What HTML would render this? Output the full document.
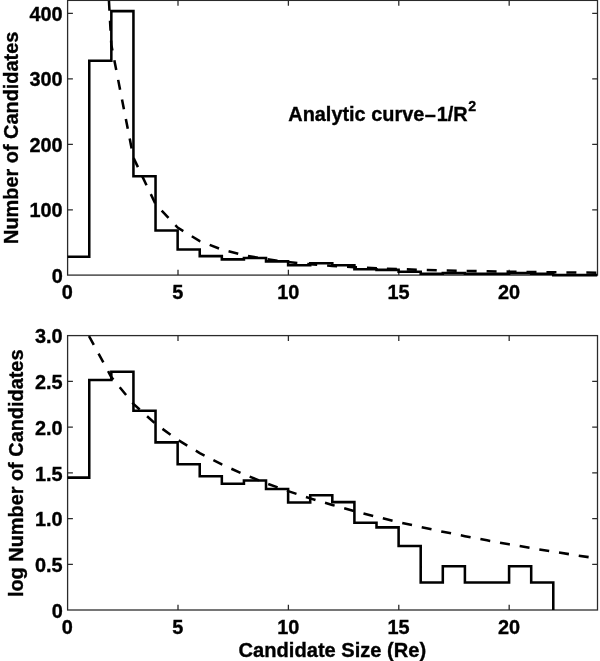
<!DOCTYPE html>
<html><head><meta charset="utf-8"><title>Candidate size histogram</title>
<style>html,body{margin:0;padding:0;background:#fff}svg{display:block}</style></head>
<body>
<svg width="600" height="661" viewBox="0 0 600 661">
<rect width="600" height="661" fill="#fff"/>
<defs>
<clipPath id="c1"><rect x="67.6" y="-0.6" width="529.9" height="277.70000000000005"/></clipPath>
<clipPath id="c2"><rect x="67.6" y="335.6" width="529.9" height="274.4"/></clipPath>
</defs>
<g font-family="Liberation Sans, Arial, Helvetica, sans-serif" font-weight="bold" font-size="19.9" fill="#000" stroke="#000" stroke-width="0.35" paint-order="stroke">
<rect x="67.6" y="0.4" width="529.90" height="274.70" fill="none" stroke="#2a2a2a" stroke-width="1.28"/>
<path d="M178.00 275.1v-5.3M178.00 0.4v5.3M288.39 275.1v-5.3M288.39 0.4v5.3M398.79 275.1v-5.3M398.79 0.4v5.3M509.18 275.1v-5.3M509.18 0.4v5.3M67.6 209.95h5.3M597.5 209.95h-5.3M67.6 144.45h5.3M597.5 144.45h-5.3M67.6 78.95h5.3M597.5 78.95h-5.3M67.6 13.45h5.3M597.5 13.45h-5.3" stroke="#2a2a2a" stroke-width="1.28" fill="none"/>
<text x="67.40" y="299.30" text-anchor="middle">0</text>
<text x="177.80" y="299.30" text-anchor="middle">5</text>
<text x="288.19" y="299.30" text-anchor="middle">10</text>
<text x="398.59" y="299.30" text-anchor="middle">15</text>
<text x="508.98" y="299.30" text-anchor="middle">20</text>
<text x="62.70" y="282.80" text-anchor="end">0</text>
<text x="62.70" y="217.30" text-anchor="end">100</text>
<text x="62.70" y="151.80" text-anchor="end">200</text>
<text x="62.70" y="86.30" text-anchor="end">300</text>
<text x="62.70" y="20.80" text-anchor="end">400</text>
<rect x="67.6" y="335.6" width="529.90" height="274.40" fill="none" stroke="#2a2a2a" stroke-width="1.28"/>
<path d="M178.00 610.0v-5.3M178.00 335.6v5.3M288.39 610.0v-5.3M288.39 335.6v5.3M398.79 610.0v-5.3M398.79 335.6v5.3M509.18 610.0v-5.3M509.18 335.6v5.3M67.6 564.27h5.3M597.5 564.27h-5.3M67.6 518.53h5.3M597.5 518.53h-5.3M67.6 472.80h5.3M597.5 472.80h-5.3M67.6 427.07h5.3M597.5 427.07h-5.3M67.6 381.33h5.3M597.5 381.33h-5.3" stroke="#2a2a2a" stroke-width="1.28" fill="none"/>
<text x="67.40" y="634.20" text-anchor="middle">0</text>
<text x="177.80" y="634.20" text-anchor="middle">5</text>
<text x="288.19" y="634.20" text-anchor="middle">10</text>
<text x="398.59" y="634.20" text-anchor="middle">15</text>
<text x="508.98" y="634.20" text-anchor="middle">20</text>
<text x="62.70" y="617.70" text-anchor="end">0</text>
<text x="62.70" y="571.97" text-anchor="end">0.5</text>
<text x="62.70" y="526.23" text-anchor="end">1.0</text>
<text x="62.70" y="480.50" text-anchor="end">1.5</text>
<text x="62.70" y="434.77" text-anchor="end">2.0</text>
<text x="62.70" y="389.03" text-anchor="end">2.5</text>
<text x="62.70" y="343.30" text-anchor="end">3.0</text>
<path d="M67.15 256.76L67.15 256.76L89.25 256.76L89.25 60.65L111.34 60.65L111.34 11.13L133.44 11.13L133.44 176.20L155.54 176.20L155.54 230.56L177.64 230.56L177.64 249.42L199.73 249.42L199.73 256.11L221.83 256.11L221.83 259.38L243.93 259.38L243.93 258.07L266.02 258.07L266.02 261.35L288.12 261.35L288.12 265.28L310.22 265.28L310.22 263.31L332.31 263.31L332.31 265.21L354.41 265.21L354.41 269.21L376.51 269.21L376.51 269.86L398.61 269.86L398.61 271.83L420.70 271.83L420.70 273.79L442.80 273.79L442.80 273.14L464.90 273.14L464.90 273.79L486.99 273.79L486.99 273.79L509.09 273.79L509.09 273.14L531.19 273.14L531.19 273.79L553.28 273.79L553.28 275.10L575.38 275.10L575.38 275.10L597.48 275.10" fill="none" stroke="#000" stroke-width="2.55" stroke-linejoin="miter" clip-path="url(#c1)"/>
<path d="M67.15 -5475.80L89.25 -363.89L111.34 45.06L133.44 157.73L155.54 204.10L177.64 227.57L199.73 241.07L221.83 249.54L243.93 255.20L266.02 259.17L288.12 262.06L310.22 264.23L332.31 265.90L354.41 267.21L376.51 268.26L398.61 269.12L420.70 269.82L442.80 270.41L464.90 270.90L486.99 271.32L509.09 271.68L531.19 271.99L553.28 272.26L575.38 272.50L597.48 272.70" fill="none" stroke="#000" stroke-width="2.55" stroke-dasharray="10 9.95" stroke-dashoffset="-10.88" clip-path="url(#c1)"/>
<path d="M67.15 477.61L67.15 477.61L89.25 477.61L89.25 379.95L111.34 379.95L111.34 371.69L133.44 371.69L133.44 410.68L155.54 410.68L155.54 442.37L177.64 442.37L177.64 464.24L199.73 464.24L199.73 476.21L221.83 476.21L221.83 483.73L243.93 483.73L243.93 480.55L266.02 480.55L266.02 489.03L288.12 489.03L288.12 502.40L310.22 502.40L310.22 495.16L332.31 495.16L332.31 502.13L354.41 502.13L354.41 522.68L376.51 522.68L376.51 527.36L398.61 527.36L398.61 546.03L420.70 546.03L420.70 582.42L442.80 582.42L442.80 566.32L464.90 566.32L464.90 582.42L486.99 582.42L486.99 582.42L509.09 582.42L509.09 566.32L531.19 566.32L531.19 582.42L553.28 582.42L553.28 1067.20L575.38 1067.20L575.38 1067.20L597.48 1067.20" fill="none" stroke="#000" stroke-width="2.55" stroke-linejoin="miter" clip-path="url(#c2)"/>
<path d="M67.15 249.32L89.25 336.58L111.34 377.16L133.44 403.89L155.54 423.85L177.64 439.79L199.73 453.06L221.83 464.42L243.93 474.37L266.02 483.20L288.12 491.15L310.22 498.38L332.31 505.00L354.41 511.11L376.51 516.79L398.61 522.09L420.70 527.05L442.80 531.73L464.90 536.14L486.99 540.32L509.09 544.30L531.19 548.08L553.28 551.69L575.38 555.14L597.48 558.45" fill="none" stroke="#000" stroke-width="2.55" stroke-dasharray="10 9.95" stroke-dashoffset="-9.72" clip-path="url(#c2)"/>
<text x="288.3" y="120.8">Analytic curve<tspan dx="0.4">–</tspan><tspan dx="0.9">1/R</tspan><tspan font-size="14.2" dx="0.7" dy="-10.0">2</tspan></text>
<text transform="translate(17.5,137.8) rotate(-90)" text-anchor="middle" x="0" y="0">Number of Candidates</text>
<text transform="translate(22.7,473.3) rotate(-90)" text-anchor="middle" x="0" y="0">log Number of Candidates</text>
<text x="332.4" y="656.5" text-anchor="middle" font-size="20.1">Candidate Size (Re)</text>
</g></svg>
</body></html>
